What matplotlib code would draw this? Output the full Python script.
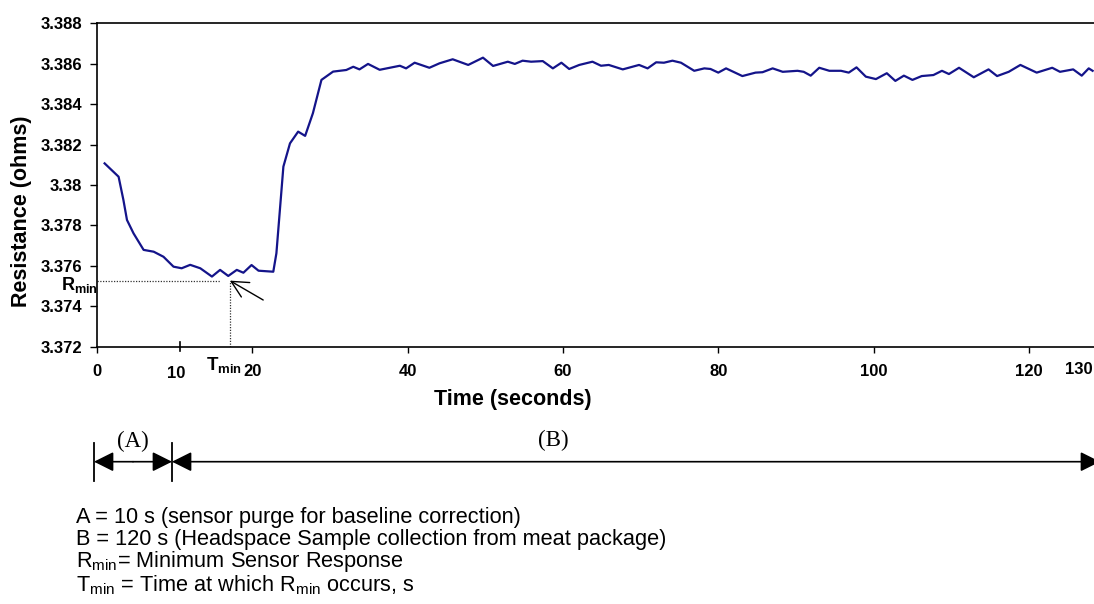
import matplotlib
matplotlib.use("Agg")
import matplotlib.pyplot as plt
from matplotlib.patches import FancyArrowPatch
from matplotlib.lines import Line2D
import matplotlib.transforms as mtransforms

plt.rcParams['font.family'] = ['Liberation Sans', 'DejaVu Sans']
plt.rcParams['mathtext.fontset'] = 'custom'
plt.rcParams['mathtext.rm'] = 'Liberation Sans'
plt.rcParams['mathtext.it'] = 'Liberation Sans:italic'
plt.rcParams['mathtext.bf'] = 'Liberation Sans:bold'

# ---------------- data ----------------
time_s = [0.98, 2.78, 3.4, 3.86, 4.7, 6.0, 7.3, 8.56, 9.85, 10.9, 12.0, 13.3, 14.8, 15.85,
          16.9, 18.0, 18.85, 19.9, 20.8, 22.7, 23.1, 24.0, 24.85, 25.9, 26.8, 27.8, 28.9,
          30.4, 32.1, 33.0, 33.8, 34.9, 36.4, 37.7, 39.0, 39.8, 40.9, 42.8, 44.1, 45.8,
          47.8, 49.7, 51.0, 52.9, 53.8, 54.8, 55.9, 57.4, 58.7, 59.8, 60.8, 62.1, 63.8,
          64.9, 65.9, 67.7, 69.8, 70.9, 72.0, 73.0, 74.1, 75.2, 76.9, 78.2, 79.0, 80.0,
          81.0, 83.1, 84.8, 85.7, 87.0, 88.3, 90.2, 91.0, 91.9, 93.0, 94.3, 95.8, 96.8,
          97.8, 99.0, 100.3, 101.7, 102.8, 103.9, 105.0, 106.2, 107.7, 108.8, 109.7,
          111.0, 112.9, 114.8, 115.9, 117.4, 118.9, 121.0, 123.0, 124.0, 125.7, 126.8,
          127.7, 128.2]
resistance = [3.38107, 3.38041, 3.37926, 3.37827, 3.37761, 3.37679, 3.37670, 3.37645,
              3.37596, 3.37588, 3.37605, 3.37588, 3.37547, 3.37580, 3.37550, 3.37580,
              3.37566, 3.37604, 3.37576, 3.37571, 3.37662, 3.38091, 3.38206, 3.38264,
              3.38243, 3.38355, 3.38520, 3.38561, 3.38569, 3.38585, 3.38572, 3.38599,
              3.38570, 3.38580, 3.38590, 3.38577, 3.38605, 3.38580, 3.38602, 3.38622,
              3.38594, 3.38630, 3.38589, 3.38610, 3.38599, 3.38615, 3.38610, 3.38613,
              3.38577, 3.38605, 3.38574, 3.38594, 3.38610, 3.38590, 3.38594, 3.38572,
              3.38594, 3.38577, 3.38607, 3.38605, 3.38615, 3.38605, 3.38565, 3.38577,
              3.38574, 3.38556, 3.38577, 3.38539, 3.38556, 3.38558, 3.38577, 3.38560,
              3.38565, 3.38560, 3.38541, 3.38580, 3.38565, 3.38565, 3.38556, 3.38582,
              3.38536, 3.38524, 3.38553, 3.38515, 3.38541, 3.38520, 3.38539, 3.38544,
              3.38565, 3.38549, 3.38580, 3.38533, 3.38572, 3.38539, 3.38560, 3.38594,
              3.38556, 3.38580, 3.38560, 3.38572, 3.38541, 3.38577, 3.38565]

x_ticks = [0, 20, 40, 60, 80, 100, 120]
x_tick_labels = ['0', '20', '40', '60', '80', '100', '120']
y_ticks = [3.372, 3.374, 3.376, 3.378, 3.380, 3.382, 3.384, 3.386, 3.388]
y_tick_labels = ['3.372', '3.374', '3.376', '3.378', '3.38', '3.382', '3.384', '3.386', '3.388']

T_MIN = 17.1
R_MIN = 3.37527
EXTRA_TICK = 10.7

legend_lines = [
    r'A = 10 s (sensor purge for baseline correction)',
    r'B = 120 s (Headspace Sample collection from meat package)',
    r'R$_{\mathrm{min}}$= Minimum Sensor Response',
    r'T$_{\mathrm{min}}$ = Time at which R$_{\mathrm{min}}$ occurs, s',
]

# ---------------- figure ----------------
W, H = 1094, 604
fig = plt.figure(figsize=(W / 100, H / 100), dpi=100)

def fx(px):
    return px / W

def fy(py):
    return 1 - py / H

ax_left, ax_top, ax_bot = 97, 23.3, 346.7
px_per_unit = 7.766
ax = fig.add_axes([fx(ax_left), fy(ax_bot), 130 * px_per_unit / W, (ax_bot - ax_top) / H])

ax.plot(time_s, resistance, color='#14148a', lw=1.6, solid_joinstyle='round')
ax.set_xlim(0, 130)
ax.set_ylim(3.372, 3.388)

ax.set_xticks(x_ticks)
ax.set_xticklabels(x_tick_labels, fontsize=12, fontweight='bold')
ax.set_yticks(y_ticks)
ax.set_yticklabels(y_tick_labels, fontsize=12, fontweight='bold')
ax.tick_params(axis='x', direction='out', length=4.5, width=1, pad=8)
ax.tick_params(axis='y', direction='out', length=5, width=1, pad=5.5)
for s in ax.spines.values():
    s.set_linewidth(1.2)

bt = mtransforms.blended_transform_factory(ax.transData, ax.transAxes)
# extra "10" tick crossing the axis
ax.add_line(Line2D([EXTRA_TICK, EXTRA_TICK], [-0.012, 0.015], transform=bt, color='black',
                   lw=1.2, clip_on=False))
ax.text(10.2, -0.082, '10', transform=bt, ha='center', va='center', fontsize=12,
        fontweight='bold')
ax.text(124.7, -0.072, '130', transform=bt, ha='left', va='center', fontsize=12,
        fontweight='bold', clip_on=False)

# Rmin / Tmin markers
ax.plot([0, 15.8], [R_MIN, R_MIN], ls=(0, (1, 1.2)), color='#333333', lw=0.9)
ax.plot([T_MIN, T_MIN], [3.372, R_MIN], ls=(0, (1, 1.2)), color='#333333', lw=0.9)
ax.annotate('', xy=(T_MIN, R_MIN), xytext=(21.4, 3.37431),
            arrowprops=dict(arrowstyle='->,head_length=0.8,head_width=0.4',
                            mutation_scale=15, color='black', lw=1.0,
                            shrinkA=0, shrinkB=0))
fig.text(fx(61), fy(285), r'$\mathbf{R}_{\mathbf{min}}$', fontsize=13, ha='left',
         va='center')
fig.text(fx(206), fy(365), r'$\mathbf{T}_{\mathbf{min}}$', fontsize=13.5, ha='left',
         va='center')

# axis labels
fig.text(fx(22), fy(211), 'Resistance (ohms)', rotation=90, ha='center', va='center',
         fontsize=15.5, fontweight='bold')
fig.text(fx(513), fy(400), 'Time (seconds)', ha='center', va='center',
         fontsize=15.5, fontweight='bold')

# ---------------- period diagram ----------------
def vbar(px):
    fig.add_artist(Line2D([fx(px), fx(px)], [fy(443), fy(481)], color='black', lw=1.3,
                          transform=fig.transFigure))

vbar(94)
vbar(172)
y_arr = 461.7
arr_style = '-|>,head_length=12,head_width=6'
fig.add_artist(FancyArrowPatch((fx(133), fy(y_arr)), (fx(94), fy(y_arr)),
                               transform=fig.transFigure, arrowstyle=arr_style,
                               mutation_scale=1, color='black', lw=1.2,
                               shrinkA=0, shrinkB=0))
fig.add_artist(FancyArrowPatch((fx(133), fy(y_arr)), (fx(172), fy(y_arr)),
                               transform=fig.transFigure, arrowstyle=arr_style,
                               mutation_scale=1, color='black', lw=1.2,
                               shrinkA=0, shrinkB=0))
fig.add_artist(FancyArrowPatch((fx(172), fy(y_arr)), (fx(1100), fy(y_arr)),
                               transform=fig.transFigure,
                               arrowstyle='<|-|>,head_length=12,head_width=6',
                               mutation_scale=1, color='black', lw=1.2,
                               shrinkA=0, shrinkB=0))
fig.text(fx(132.7), fy(441.7), '(A)', family='Liberation Serif', fontsize=16.5,
         ha='center', va='center')
fig.text(fx(553), fy(440.7), '(B)', family='Liberation Serif', fontsize=16.5,
         ha='center', va='center')

row_y = [517, 539, 562, 585]
for txt, yy in zip(legend_lines, row_y):
    fig.text(fx(76), fy(yy), txt, fontsize=15.7, ha='left', va='center')

fig.savefig('out.png', dpi=100)
